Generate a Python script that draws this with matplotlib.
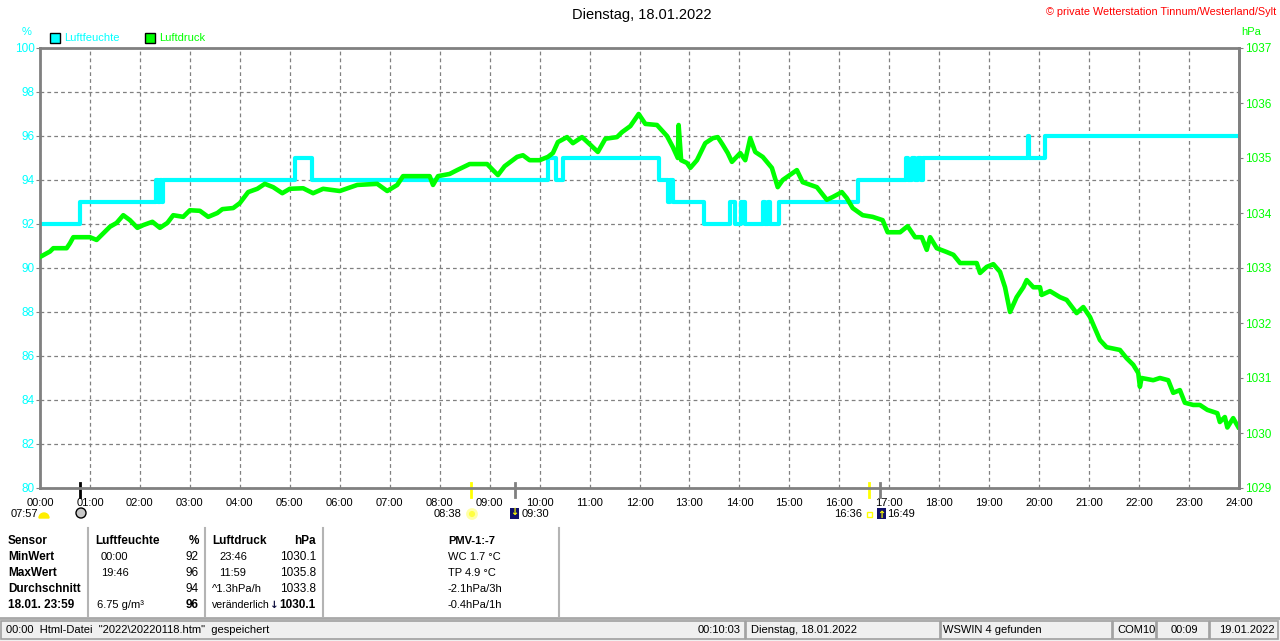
import matplotlib
matplotlib.use("Agg")
import matplotlib.pyplot as plt
from matplotlib.patches import Rectangle, Circle, Wedge
from matplotlib.transforms import blended_transform_factory, IdentityTransform

plt.rcParams['font.family'] = ['Liberation Sans', 'DejaVu Sans']

W, H = 1280, 641

# Luftfeuchte in %, Stufen (Minute ab 00:00 -> Wert)
feuchte_min = [0, 48, 139, 142, 144, 146, 148, 306, 327, 610, 620, 628, 743, 754,
               757, 760, 797, 829, 835, 842, 847, 868, 871, 874, 877, 887, 982,
               1040, 1043, 1047, 1051, 1055, 1058, 1060, 1186, 1188, 1207, 1440]
feuchte_pct = [92, 93, 94, 93, 94, 93, 94, 95, 94, 95, 94, 95, 94, 93,
               94, 93, 92, 93, 92, 93, 92, 93, 92, 93, 92, 93, 94,
               95, 94, 95, 94, 95, 94, 95, 96, 95, 96, 96]

# Luftdruck in hPa
druck_min = [0, 12, 16, 32, 36, 40, 48, 60, 68, 84, 92, 100, 108, 117, 124, 135,
             144, 153, 160, 172, 180, 192, 202, 213, 219, 232, 240, 250, 261, 270,
             280, 291, 300, 316, 328, 340, 360, 381, 405, 417, 429, 436, 468, 472,
             478, 492, 501, 516, 537, 544, 550, 558, 573, 580, 588, 600, 610, 616,
             622, 633, 640, 651, 661, 670, 679, 693, 699, 709, 719, 727, 741, 753,
             760, 766, 767, 770, 777, 781, 789, 799, 808, 814, 820, 826, 831, 841,
             847, 853, 859, 868, 879, 886, 892, 909, 916, 933, 945, 952, 963, 969,
             976, 988, 1000, 1012, 1018, 1033, 1042, 1051, 1059, 1065, 1069, 1077,
             1089, 1097, 1105, 1125, 1129, 1137, 1145, 1153, 1159, 1165, 1173, 1181,
             1185, 1193, 1201, 1203, 1213, 1225, 1233, 1245, 1253, 1261, 1273, 1281,
             1297, 1305, 1313, 1319, 1321, 1323, 1337, 1345, 1355, 1361, 1369, 1375,
             1385, 1393, 1402, 1414, 1417, 1423, 1426, 1433, 1439]
druck_hpa = [1033.20, 1033.30, 1033.36, 1033.36, 1033.45, 1033.56, 1033.56, 1033.56,
             1033.51, 1033.75, 1033.82, 1033.96, 1033.87, 1033.73, 1033.78, 1033.84,
             1033.73, 1033.82, 1033.96, 1033.93, 1034.05, 1034.04, 1033.93, 1034.00,
             1034.07, 1034.09, 1034.18, 1034.38, 1034.44, 1034.53, 1034.47, 1034.36,
             1034.44, 1034.45, 1034.36, 1034.44, 1034.40, 1034.51, 1034.53, 1034.40,
             1034.51, 1034.67, 1034.67, 1034.51, 1034.67, 1034.71, 1034.78, 1034.89,
             1034.89, 1034.78, 1034.69, 1034.85, 1035.02, 1035.05, 1034.96, 1034.96,
             1035.02, 1035.09, 1035.29, 1035.38, 1035.27, 1035.38, 1035.24, 1035.11,
             1035.35, 1035.38, 1035.47, 1035.58, 1035.80, 1035.62, 1035.60, 1035.40,
             1035.20, 1035.00, 1035.60, 1034.96, 1034.91, 1034.82, 1034.96, 1035.27,
             1035.36, 1035.38, 1035.24, 1035.09, 1034.93, 1035.09, 1034.96, 1035.36,
             1035.11, 1035.02, 1034.82, 1034.47, 1034.60, 1034.78, 1034.56, 1034.47,
             1034.24, 1034.29, 1034.38, 1034.27, 1034.09, 1033.96, 1033.93, 1033.87,
             1033.65, 1033.65, 1033.76, 1033.56, 1033.56, 1033.33, 1033.56, 1033.36,
             1033.29, 1033.24, 1033.09, 1033.09, 1032.91, 1033.02, 1033.07, 1032.93,
             1032.65, 1032.20, 1032.47, 1032.65, 1032.78, 1032.65, 1032.65, 1032.51,
             1032.58, 1032.47, 1032.42, 1032.18, 1032.29, 1032.11, 1031.69, 1031.56,
             1031.51, 1031.36, 1031.24, 1031.09, 1030.84, 1031.00, 1030.96, 1031.00,
             1030.96, 1030.73, 1030.78, 1030.55, 1030.51, 1030.51, 1030.42, 1030.36,
             1030.20, 1030.29, 1030.10, 1030.27, 1030.11]

stunden = list(range(0, 1441, 60))
stunden_labels = ['%02d:00' % (m // 60) for m in stunden]

# Sonne / Mond (Minute, Farbe der Marke)
ereignis_min = [48, 518, 570, 996, 1009]
ereignis_farbe = ['black', '#ffff00', '#808080', '#ffff00', '#808080']

CYAN = '#00ffff'
GRUEN = '#00ff00'
GRAU = '#808080'


def fx(x):
    return x / W


def fy(y):
    return 1 - y / H


fig = plt.figure(figsize=(12.8, 6.41), dpi=100)
ax = fig.add_axes([fx(40), fy(488), (1239 - 40) / W, (488 - 48) / H])
ax2 = ax.twinx()

ax.plot(feuchte_min, feuchte_pct, drawstyle='steps-post', color=CYAN, lw=3)
ax2.plot(druck_min, druck_hpa, color=GRUEN, lw=3.3)

ax.set_xlim(0, 1440)
ax.set_ylim(80, 100)
ax2.set_ylim(1029, 1037)
ax.set_xticks(stunden)
ax.set_xticklabels(stunden_labels)
ax.set_yticks(range(80, 101, 2))
ax2.set_yticks(range(1029, 1038))
ax.grid(True, color=GRAU, linestyle=(0, (3, 2.5)), linewidth=0.9)
ax.tick_params(axis='x', length=0, pad=7, labelsize=8, labelcolor='black')
ax.tick_params(axis='y', length=3, color=GRAU, pad=1, labelsize=8.5, labelcolor=CYAN)
ax2.tick_params(axis='y', length=3, color=GRAU, pad=1, labelsize=8.5, labelcolor=GRUEN)
for s in ax.spines.values():
    s.set_color(GRAU)
    s.set_linewidth(2)
for s in ax2.spines.values():
    s.set_visible(False)
ax2.spines['right'].set_visible(True)
ax2.spines['right'].set_color(GRAU)
ax2.spines['right'].set_linewidth(2)

# Ereignismarken an der Zeitachse
trans = blended_transform_factory(ax.transData, ax.transAxes)
for t, c in zip(ereignis_min, ereignis_farbe):
    ax.plot([t, t], [0.012, -0.021], transform=trans, color=c, lw=2, clip_on=False)

ylab = -0.059
ax.annotate('08:38', (518, ylab), xycoords=trans, xytext=(-7, 0),
            textcoords='offset points', ha='right', va='center', fontsize=8)
ax.annotate('09:30', (570, ylab), xycoords=trans, xytext=(5, 0),
            textcoords='offset points', ha='left', va='center', fontsize=8)
ax.annotate('16:36', (996, ylab), xycoords=trans, xytext=(-5, 0),
            textcoords='offset points', ha='right', va='center', fontsize=8)
ax.annotate('16:49', (1009, ylab), xycoords=trans, xytext=(5, 0),
            textcoords='offset points', ha='left', va='center', fontsize=8)
fig.text(fx(38), fy(514), '07:57', ha='right', va='center', fontsize=8)

# kleine Symbole in Pixeln (y von unten)
pix = IdentityTransform()
fig.add_artist(Wedge((44, H - 518), 5, 0, 180, transform=pix,
                     facecolor='#ffee00', edgecolor='#ffee00'))
fig.add_artist(Circle((81, H - 513), 5, transform=pix,
                      facecolor='#c8c8c8', edgecolor='black', lw=1))
fig.add_artist(Circle((472, H - 514), 4.5, transform=pix,
                      facecolor='#ffff40', edgecolor='#ffffa8', lw=2))
fig.add_artist(Rectangle((510, H - 519), 9, 11, transform=pix,
                         facecolor='#10106a', edgecolor='none'))
fig.text(fx(514.5), fy(512), '↓', color='#ffff00', ha='center', va='center',
         fontsize=7, fontweight='bold', family=['DejaVu Sans'])
fig.add_artist(Rectangle((867, H - 517), 5, 5, transform=pix,
                         facecolor='none', edgecolor='#ffff00', lw=1))
fig.add_artist(Rectangle((877, H - 519), 9, 11, transform=pix,
                         facecolor='#10106a', edgecolor='none'))
fig.text(fx(881.5), fy(515), '↑', color='#ffff00', ha='center', va='center',
         fontsize=7, fontweight='bold', family=['DejaVu Sans'])

# Titel, Legende, Achsbeschriftungen
fig.text(fx(642), fy(15), 'Dienstag, 18.01.2022', ha='center', va='center', fontsize=10.5)
fig.text(fx(1276), fy(12), '© private Wetterstation Tinnum/Westerland/Sylt', ha='right',
         va='center', fontsize=7.8, color='#ff0000')
fig.text(fx(26.5), fy(32), '%', ha='center', va='center', fontsize=8, color=CYAN)
fig.text(fx(1241), fy(32), 'hPa', ha='left', va='center', fontsize=8, color=GRUEN)
fig.add_artist(Rectangle((50, H - 43), 10, 10, transform=pix,
                         facecolor=CYAN, edgecolor='black', lw=1))
fig.text(fx(64), fy(38), 'Luftfeuchte', ha='left', va='center', fontsize=8, color=CYAN)
fig.add_artist(Rectangle((145, H - 43), 10, 10, transform=pix,
                         facecolor=GRUEN, edgecolor='black', lw=1))
fig.text(fx(159), fy(38), 'Luftdruck', ha='left', va='center', fontsize=8, color=GRUEN)

# Tabelle unten
zeilen_y = [541, 557, 573, 589, 605]
sensor = ['Sensor', 'MinWert', 'MaxWert', 'Durchschnitt', '18.01. 23:59']
feuchte_zeit = ['', '00:00', '19:46', '', '6.75 g/m³']
feuchte_wert = ['%', '92', '96', '94', '96']
druck_zeit = ['', '23:46', '11:59', '^1.3hPa/h', 'veränderlich']
druck_wert = ['hPa', '1030.1', '1035.8', '1033.8', '1030.1']
pmv = ['PMV-1:-7', 'WC 1.7 °C', 'TP 4.9 °C', '-2.1hPa/3h', '-0.4hPa/1h']

for i, y in enumerate(zeilen_y):
    fig.text(fx(8), fy(y), sensor[i], ha='left', va='center', fontsize=8.5, fontweight='bold')
    fett = 'bold' if i in (0, 4) else 'normal'
    fig.text(fx(199), fy(y), feuchte_wert[i], ha='right', va='center', fontsize=8.5,
             fontweight=fett)
    fig.text(fx(316), fy(y), druck_wert[i], ha='right', va='center', fontsize=8.5,
             fontweight=fett)
    fig.text(fx(448), fy(y), pmv[i], ha='left', va='center', fontsize=8,
             fontweight='bold' if i == 0 else 'normal')
    if i > 0:
        groesse = 7.6 if i == 4 else 8
        fig.text(fx(101 if i < 4 else 97), fy(y), feuchte_zeit[i], ha='left', va='center',
                 fontsize=8)
        fig.text(fx(219 if i < 3 else 212), fy(y), druck_zeit[i], ha='left', va='center',
                 fontsize=groesse)
fig.text(fx(95), fy(541), 'Luftfeuchte', ha='left', va='center', fontsize=8.5, fontweight='bold')
fig.text(fx(212), fy(541), 'Luftdruck', ha='left', va='center', fontsize=8.5, fontweight='bold')
fig.text(fx(274), fy(605), '↓', ha='center', va='center', fontsize=7.5, fontweight='bold',
         color='#101040', family=['DejaVu Sans'])

for x in [88, 205, 323, 559]:
    fig.add_artist(plt.Line2D([fx(x), fx(x)], [fy(528), fy(616)], transform=fig.transFigure,
                              color='#b4b4b4', lw=1.5))
fig.add_artist(plt.Line2D([0, 1], [fy(618), fy(618)], transform=fig.transFigure,
                          color='#a8a8a8', lw=2))

# Statusleiste
fig.add_artist(Rectangle((0, 0), 1, fy(620), transform=fig.transFigure,
                         facecolor='#f0f0f0', edgecolor='none'))
panels = [(1, 745), (746, 940), (941, 1112), (1113, 1156), (1157, 1209), (1210, 1278)]
for x0, x1 in panels:
    fig.add_artist(Rectangle((x0, H - 639), x1 - x0, 18, transform=pix,
                             facecolor='none', edgecolor='#a0a0a0', lw=1.2))
sy = fy(630)
fig.text(fx(6), sy, '00:00  Html-Datei  "2022\\20220118.htm"  gespeichert', ha='left',
         va='center', fontsize=8)
fig.text(fx(741), sy, '00:10:03', ha='right', va='center', fontsize=8)
fig.text(fx(751), sy, 'Dienstag, 18.01.2022', ha='left', va='center', fontsize=8)
fig.text(fx(943), sy, 'WSWIN 4 gefunden', ha='left', va='center', fontsize=8)
fig.text(fx(1117), sy, 'COM10', ha='left', va='center', fontsize=8)
fig.text(fx(1184), sy, '00:09', ha='center', va='center', fontsize=8)
fig.text(fx(1219), sy, '19.01.2022', ha='left', va='center', fontsize=8)

fig.savefig('out.png', dpi=100, facecolor='white')
